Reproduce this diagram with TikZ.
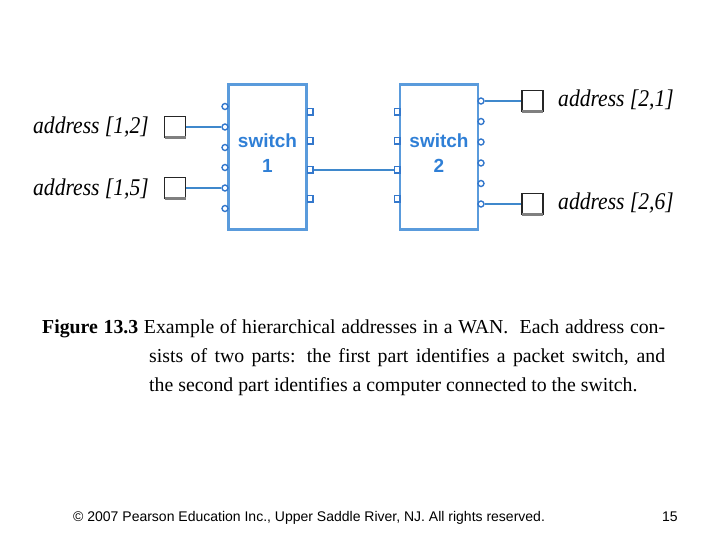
\documentclass[tikz,border=0pt]{standalone}
\usepackage{fontspec}
\setmainfont{Liberation Serif}
\setsansfont{Liberation Sans}
\definecolor{boxblue}{HTML}{5A9BDC}
\definecolor{txtblue}{HTML}{2F7FD6}
\definecolor{lineblue}{HTML}{3F88CC}
\definecolor{portblue}{HTML}{3478CC}
\newcommand{\addrtext}[1]{\scalebox{0.9}[1]{\fontsize{24}{26}\selectfont\itshape #1}}
\begin{document}
\begin{tikzpicture}[x=1pt,y=-1pt,
  switchbox/.style={draw=boxblue,line width=2.4pt,minimum width=78pt,minimum height=145pt,inner sep=0pt},
  cport/.style={circle,draw=portblue,line width=1.4pt,minimum size=6pt,inner sep=0pt},
  sport/.style={rectangle,draw=portblue,line width=1.5pt,minimum width=5.5pt,minimum height=6.5pt,inner sep=0pt},
  comp/.style={rectangle,draw=black!85,line width=1.6pt,fill=white,minimum size=21pt,inner sep=0pt},
  link/.style={draw=lineblue,line width=1.9pt},
  addr/.style={inner sep=0pt},
  swtext/.style={font=\fontsize{19}{22}\sffamily\bfseries,text=txtblue,inner sep=0pt,anchor=base},
  captext/.style={font=\fontsize{19.8}{22}\selectfont,inner sep=0pt,anchor=base west}
]
\useasboundingbox (0,0) rectangle (720,540);
% switches
\node[switchbox] (s1) at (267.5,157) {};
\node[switchbox] (s2) at (439,157) {};
\node[swtext] (s1a) at (267.5,148) {switch};
\node[swtext] (s1b) at (267.5,173) {1};
\node[swtext] (s2a) at (439,148) {switch};
\node[swtext] (s2b) at (439,173) {2};
% switch 1 left ports (circles)
\foreach \i/\y in {1/106.5,2/127,3/147.5,4/167.5,5/188,6/208.5}
  \node[cport] (s1l\i) at (225,\y) {};
% switch 1 right ports (squares)
\foreach \i/\y in {1/112,2/141,3/170,4/199}
  \node[sport] (s1r\i) at (310,\y) {};
% switch 2 left ports (squares)
\foreach \i/\y in {1/112,2/141,3/170,4/199}
  \node[sport] (s2l\i) at (397,\y) {};
% switch 2 right ports (circles)
\foreach \i/\y in {1/101,2/121.5,3/142,4/163,5/183.5,6/204}
  \node[cport] (s2r\i) at (481,\y) {};
% computers
\node[comp] (c12) at (175,127) {};
\node[comp] (c15) at (175,188) {};
\node[comp] (c21) at (532.5,101) {};
\node[comp] (c26) at (532.5,204) {};
\foreach \c in {c12,c15,c21,c26}
  \draw[gray,line width=2.4pt] ([xshift=0.8pt,yshift=0.6pt]\c.south west) -- ([xshift=-0.8pt,yshift=0.6pt]\c.south east);
% links
\draw[link] (c12.east) -- (s1l2.west);
\draw[link] (c15.east) -- (s1l5.west);
\draw[link] (s1r3.east) -- (s2l3.west);
\draw[link] (s2r1.east) -- (c21.west);
\draw[link] (s2r6.east) -- (c26.west);
% labels
\node[addr,anchor=base east] (l12) at (149,134) {\addrtext{address [1,2]}};
\node[addr,anchor=base east] (l15) at (149,196) {\addrtext{address [1,5]}};
\node[addr,anchor=base west] (l21) at (558,107) {\addrtext{address [2,1]}};
\node[addr,anchor=base west] (l26) at (558,210) {\addrtext{address [2,6]}};
% caption
\node[captext] (cap1) at (42,333) {\makebox[623pt][s]{\textbf{Figure 13.3} Example of hierarchical addresses in a WAN.\ \ Each address con-}};
\node[captext] (cap2) at (149,362) {\makebox[516pt][s]{sists of two parts: the first part identifies a packet switch, and}};
\node[captext] (cap3) at (149,391) {the second part identifies a computer connected to the switch.};
% footer
\node[font=\fontsize{14}{16}\sffamily,inner sep=0pt,anchor=base west] (foot) at (73,521) {© 2007 Pearson Education Inc., Upper Saddle River, NJ. All rights reserved.};
\node[font=\fontsize{14}{16}\sffamily,inner sep=0pt,anchor=base west] (page) at (662,521) {15};
\end{tikzpicture}
\end{document}
